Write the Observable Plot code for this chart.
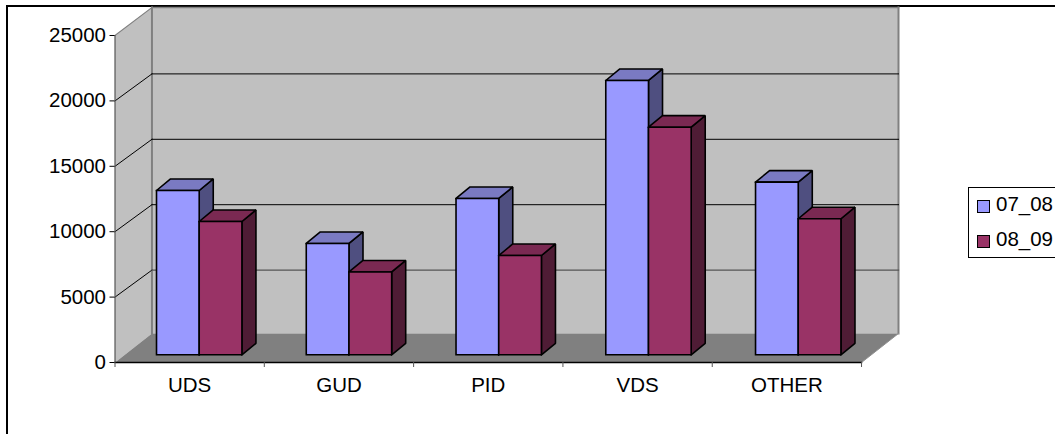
<!DOCTYPE html>
<html>
<head>
<meta charset="utf-8">
<script src="https://cdn.jsdelivr.net/npm/d3@7"></script>
<script src="https://cdn.jsdelivr.net/npm/@observablehq/plot@0.6"></script>
<style>
  html, body { margin: 0; padding: 0; background: #fff; width: 1055px; height: 434px; overflow: hidden; }
  #wrap { position: relative; width: 1055px; height: 434px; overflow: hidden; font-family: "Liberation Sans", Arial, sans-serif; }
  #frame { position: absolute; left: 6px; top: 5px; width: 1100px; height: 500px; border-left: 2px solid #000; border-top: 2px solid #000; }
  #chart { position: absolute; left: 0; top: 0; }
  #chart svg { display: block; background: transparent; }
  #legend { position: absolute; left: 968px; top: 187px; width: 120px; height: 69px; border: 1px solid #000; background: #fff; font-size: 20.5px; color: #000; }
  .item { position: absolute; left: 8px; line-height: 22px; white-space: nowrap; }
  .swatch { position: absolute; left: 0; top: 4px; width: 11px; height: 11px; border: 1px solid #000; }
  .label { position: absolute; left: 19px; top: -3px; }
</style>
</head>
<body>
<div id="wrap">
  <div id="frame"></div>
  <div id="chart"></div>
  <div id="legend"></div>
</div>
<script>
const categories = ["UDS", "GUD", "PID", "VDS", "OTHER"];
const seriesNames = ["07_08", "08_09"];
const values0708 = [12560, 8510, 11950, 20970, 13200];
const values0809 = [10190, 6330, 7590, 17400, 10400];
const yTicks = [0, 5000, 10000, 15000, 20000, 25000];
const frontColors = ["#9999ff", "#993366"];
const topColors = ["#7a7ac2", "#7a2952"];
const sideColors = ["#4f4f80", "#4f1c35"];

// Oblique projection, in units of the two data scales
const wallDX = 0.2475, wallDY = 2217, gridDY = 2064;
const xEnd = 5 + wallDX, yEnd = 27140;
const barStart = 0.278, barStep = 1.003, barWidth = 0.286, baseY = 590, barDX = 0.094, barDY = 880;

const pts = (...a) => a.map(([x, y]) => ({x, y}));
const poly = (points, fill, stroke, strokeWidth = 1) =>
  Plot.line(points, {x: "x", y: "y", fill, stroke, strokeWidth, strokeLinejoin: "miter", strokeLinecap: "square"});

const marks = [];
// walls and floor
marks.push(poly(pts([wallDX, wallDY], [xEnd, wallDY], [xEnd, yEnd], [wallDX, yEnd], [wallDX, wallDY]), "#c0c0c0", "none"));
marks.push(poly(pts([0, 0], [wallDX, wallDY], [wallDX, 25000 + wallDY - 60], [0, 25000], [0, 0]), "#c0c0c0", "none"));
marks.push(poly(pts([0, 0], [5, 0], [xEnd, wallDY], [wallDX, wallDY], [0, 0]), "#808080", "none"));
// wall edges
marks.push(poly(pts([wallDX, wallDY], [wallDX, yEnd]), "none", "#808080", 2));
marks.push(poly(pts([0, 25000], [wallDX, yEnd]), "none", "#808080", 1.2));
marks.push(poly(pts([xEnd, wallDY], [xEnd, yEnd]), "none", "#808080", 2));
marks.push(poly(pts([wallDX, yEnd], [xEnd, yEnd]), "none", "#808080", 1.5));
marks.push(poly(pts([5, 0], [xEnd, wallDY]), "none", "#909090", 1));
// gridlines
for (const v of yTicks.slice(1, -1)) {
  marks.push(poly(pts([0, v], [wallDX, v + gridDY]), "none", "#000", 1));
  marks.push(poly(pts([wallDX, v + gridDY], [xEnd, v + gridDY]), "none", v === 5000 ? "#555" : "#000", v === 5000 ? 1.3 : 1));
}
// axes lines
marks.push(poly(pts([0, 0], [0, 25000]), "none", "#555", 1.2));
marks.push(poly(pts([0, 0], [5, 0]), "none", "#000", 1.3));

// bars, drawn back-to-front from left to right
categories.forEach((c, i) => {
  [values0708, values0809].forEach((vals, s) => {
    const x0 = i * barStep + barStart + s * barWidth, x1 = x0 + barWidth;
    const y0 = baseY, y1 = baseY + vals[i];
    const sw = 1.6;
    marks.push(poly(pts([x1, y0], [x1 + barDX, y0 + barDY], [x1 + barDX, y1 + barDY], [x1, y1], [x1, y0]), sideColors[s], "#000", sw));
    marks.push(poly(pts([x0, y1], [x1, y1], [x1 + barDX, y1 + barDY], [x0 + barDX, y1 + barDY], [x0, y1]), topColors[s], "#000", sw));
    marks.push(poly(pts([x0, y0], [x1, y0], [x1, y1], [x0, y1], [x0, y0]), frontColors[s], "#000", sw));
  });
});

marks.push(Plot.axisY({ticks: yTicks, tickSize: 5, tickPadding: 4, fontSize: 20.5, tickFormat: d => String(d), label: null, stroke: "#000", color: "#000"}));
marks.push(Plot.axisX({ticks: [0, 1, 2, 3, 4, 5], tickSize: 5, tickFormat: () => "", label: null, stroke: "#555"}));
marks.push(Plot.axisX({ticks: categories.map((_, i) => i + 0.5), tickSize: 0, tickPadding: 15, fontSize: 20.5, label: null,
  tickFormat: d => categories[Math.floor(d)], color: "#000"}));

const chart = Plot.plot({
  width: 1055,
  height: 434,
  marginLeft: 114.5,
  marginRight: 157,
  marginTop: 7,
  marginBottom: 72,
  style: {background: "transparent", fontFamily: "Liberation Sans, Arial, sans-serif", color: "#000", overflow: "visible"},
  x: {type: "linear", domain: [0, xEnd]},
  y: {type: "linear", domain: [0, yEnd]},
  marks
});
document.getElementById("chart").appendChild(chart);

const legend = document.getElementById("legend");
seriesNames.forEach((name, i) => {
  const item = document.createElement("div");
  item.className = "item";
  item.style.top = (8 + i * 35) + "px";
  const sw = document.createElement("span");
  sw.className = "swatch";
  sw.style.background = frontColors[i];
  const lab = document.createElement("span");
  lab.className = "label";
  lab.textContent = name;
  item.append(sw, lab);
  legend.appendChild(item);
});
</script>
</body>
</html>
